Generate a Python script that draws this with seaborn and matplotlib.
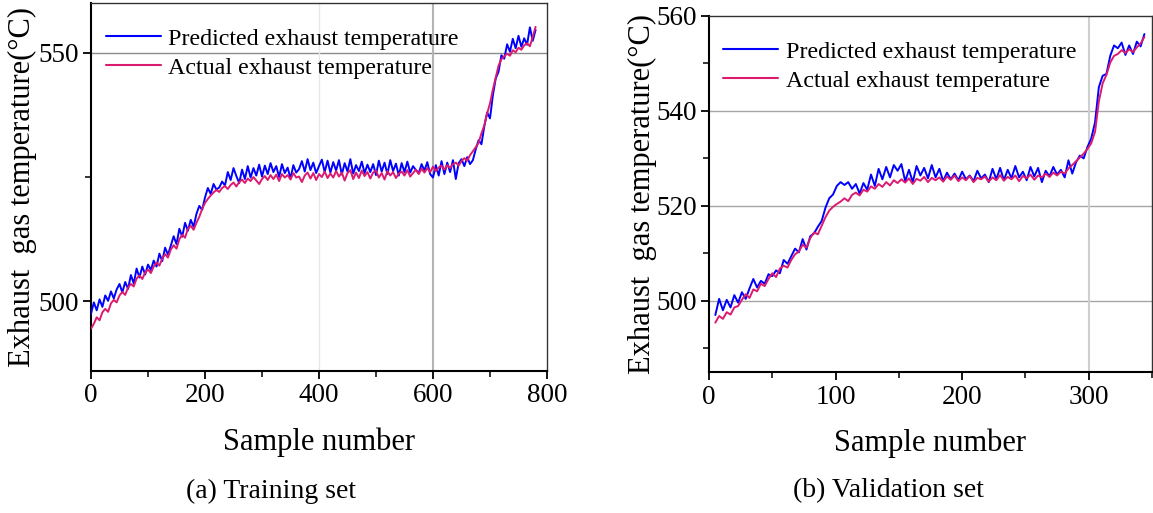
import numpy as np
import pandas as pd
import matplotlib
matplotlib.use("Agg")
import matplotlib.pyplot as plt
import seaborn as sns
from matplotlib.ticker import MultipleLocator

# ---------------- data ----------------
train_samples = list(range(0, 781, 5))
train_actual = [
    494.5, 495.5, 496.8, 496.2, 497.8, 498.5, 497.9, 499.6, 500.3, 499.8,
    501.2, 501.9, 501.3, 502.8, 503.5, 503.0, 504.6, 505.2, 504.5, 505.8,
    506.4, 505.7, 507.0, 507.8, 507.2, 508.6, 509.5, 508.8, 510.4, 511.3,
    510.6, 512.5, 513.4, 512.8, 514.6, 515.2, 514.4, 515.8, 517.0, 518.6,
    519.8, 520.6, 521.3, 521.9, 522.4, 522.0, 522.8, 523.2, 522.6, 523.4,
    523.9, 523.1, 524.0, 524.5, 523.8, 524.7, 524.2, 525.0, 524.3, 523.6,
    524.6, 525.2, 524.4, 525.4, 524.6, 525.5, 524.2, 525.6, 524.9, 525.4,
    524.5, 525.8, 524.9, 525.1, 524.0, 525.3, 525.9, 524.7, 525.8, 524.4,
    525.6, 525.0, 526.1, 524.8, 525.7, 524.9, 526.2, 525.1, 525.9, 524.3,
    525.8, 526.4, 524.6, 525.9, 524.8, 526.3, 525.2, 526.0, 524.7, 525.9,
    526.3, 524.9, 525.8, 524.5, 526.2, 525.3, 526.0, 524.8, 525.7, 526.1,
    525.3, 526.4, 525.1, 525.8, 526.5, 525.6, 526.7, 525.9, 526.8, 526.0,
    527.1, 526.2, 526.9, 527.3, 526.5, 527.4, 526.8, 527.6, 527.9, 527.3,
    528.2, 528.8, 528.3, 529.4, 530.2, 531.0, 531.9, 533.8, 535.4, 537.8,
    539.8, 542.6, 545.0, 547.4, 548.7, 549.3, 549.8, 549.4, 550.5, 550.1,
    551.0, 550.6, 551.5, 551.9, 551.3, 553.2, 555.2,
]
train_pred = [
    497.5, 499.8, 498.2, 500.4, 498.9, 501.2, 500.1, 502.0, 500.6, 502.4,
    503.5, 501.8, 503.9, 502.5, 505.3, 503.6, 506.6, 504.8, 507.0, 505.4,
    507.4, 506.3, 508.2, 507.0, 509.6, 508.1, 510.8, 509.4, 511.2, 513.1,
    511.5, 514.6, 513.0, 515.8, 514.2, 516.4, 515.0, 517.6, 519.2, 518.4,
    520.9, 522.8, 521.6, 523.6, 522.5, 522.9, 524.1, 523.3, 526.0, 524.4,
    526.8, 525.2, 523.8, 526.5, 524.6, 527.2, 524.9, 526.8, 525.3, 527.5,
    525.1, 527.3, 525.6, 527.8, 526.0, 527.2, 525.0, 527.6, 525.8, 526.9,
    524.7, 527.4, 525.9, 526.6, 528.2, 526.1, 528.6, 526.4, 527.9, 525.8,
    527.2, 528.5, 526.0, 528.3, 525.9, 528.0, 526.3, 528.4, 525.5, 527.8,
    526.1, 528.6, 525.7, 527.4, 526.2, 528.1, 525.8, 527.5, 526.0, 527.6,
    525.4, 528.3, 526.1, 527.9, 525.6, 528.4, 526.2, 527.7, 525.3, 527.8,
    526.0, 528.1, 525.9, 527.2, 526.4, 525.8, 527.6, 526.3, 528.0, 525.6,
    524.9, 527.4, 525.3, 528.2, 525.6, 527.9, 526.0, 528.4, 524.6, 527.8,
    528.6, 527.2, 529.0, 527.6, 528.4, 530.6, 532.4, 531.6, 535.2, 538.0,
    536.8, 541.4, 544.8, 546.2, 549.5, 548.8, 551.7, 550.2, 552.8, 550.9,
    553.4, 551.2, 552.9, 551.6, 555.1, 552.4, 554.6,
]

val_samples = list(range(5, 345, 3))
val_actual = [
    495.4, 496.8, 496.2, 497.6, 497.1, 498.6, 498.9, 500.2, 501.4, 500.6,
    502.4, 502.0, 503.6, 503.1, 504.6, 505.8, 505.0, 506.8, 507.4, 507.0,
    508.6, 509.8, 510.4, 511.8, 511.2, 513.2, 514.4, 514.0, 515.8, 517.6,
    519.0, 519.8, 520.4, 520.9, 521.6, 521.0, 522.3, 522.8, 522.2, 523.4,
    523.0, 524.1, 523.6, 524.6, 524.0, 525.0, 524.3, 525.4, 524.8, 525.6,
    524.9, 525.8, 524.6, 525.7, 525.3, 526.1, 525.0, 525.9, 525.4, 526.0,
    525.1, 526.2, 525.5, 526.4, 525.2, 526.0, 525.4, 526.3, 525.0, 525.9,
    525.6, 526.2, 525.1, 526.0, 525.4, 526.5, 525.3, 526.1, 525.6, 526.4,
    525.2, 526.3, 525.8, 526.6, 525.5, 526.4, 526.0, 526.8, 526.1, 527.0,
    526.4, 527.2, 526.8, 527.9, 528.6, 529.4, 530.2, 531.0, 532.0, 533.2,
    535.6, 542.0, 545.8, 547.6, 550.2, 551.6, 552.0, 552.8, 552.2, 553.0,
    552.4, 553.4, 554.2, 555.6,
]
val_pred = [
    497.0, 500.4, 498.0, 500.2, 498.6, 501.2, 499.6, 501.8, 500.4, 502.6,
    504.6, 502.8, 504.2, 503.6, 505.6, 505.2, 506.4, 505.8, 508.6, 507.8,
    509.4, 511.0, 510.2, 513.0, 510.8, 513.6, 514.2, 515.6, 516.8, 519.6,
    521.6, 522.4, 524.2, 525.0, 524.4, 525.0, 523.6, 524.6, 522.6, 524.8,
    523.4, 526.6, 524.2, 527.8, 525.6, 528.2, 526.0, 528.6, 527.4, 528.8,
    525.2, 527.6, 525.0, 528.4, 526.4, 528.0, 525.8, 528.6, 526.0, 527.8,
    525.2, 527.0, 525.6, 526.8, 525.4, 527.2, 525.6, 526.4, 525.2, 527.4,
    525.8, 526.6, 525.0, 527.8, 525.6, 528.0, 525.4, 527.6, 525.8, 528.4,
    526.0, 527.2, 525.4, 528.2, 526.2, 528.0, 525.0, 527.4, 526.2, 528.2,
    526.6, 527.6, 526.0, 529.6, 526.8, 529.2, 530.6, 530.0, 532.4, 534.2,
    537.6, 545.0, 547.4, 547.8, 551.6, 553.8, 553.2, 554.4, 551.8, 553.8,
    552.0, 554.6, 553.6, 556.2,
]

series_names = ["Predicted exhaust temperature", "Actual exhaust temperature"]
series_colors = ["#0000FF", "#DC1A6E"]
captions = ["(a) Training set", "(b) Validation set"]
x_label = "Sample number"
y_label = "Exhaust  gas temperature(\u00b0C)"

# ---------------- style ----------------
sns.set_style("ticks")
plt.rcParams["font.family"] = ["Liberation Serif", "DejaVu Serif"]
plt.rcParams["text.color"] = "black"
plt.rcParams["axes.labelcolor"] = "black"

fig = plt.figure(figsize=(11.53, 5.13), dpi=100)
ax1 = fig.add_axes([91 / 1153, 1 - 371 / 513, (547 - 91) / 1153, (371 - 3) / 513])
ax2 = fig.add_axes([709 / 1153, 1 - 372 / 513, (1152 - 709) / 1153, (372 - 16) / 513])


def long_df(samples, pred, actual):
    return pd.DataFrame({
        "sample": list(samples) * 2,
        "temp": list(pred) + list(actual),
        "series": [series_names[0]] * len(pred) + [series_names[1]] * len(actual),
    })


df1 = long_df(train_samples, train_pred, train_actual)
df2 = long_df(val_samples, val_pred, val_actual)

for ax, df in [(ax1, df1), (ax2, df2)]:
    sns.lineplot(data=df, x="sample", y="temp", hue="series",
                 hue_order=series_names, palette=series_colors,
                 linewidth=1.4, ax=ax, sort=False, estimator=None, zorder=3)

# grid lines as in the reference
ax1.axhline(550, color="#8c8c8c", lw=1.0, zorder=1)
ax1.axvline(400, color="#e8e8e8", lw=1.0, zorder=1)
ax1.axvline(600, color="#b4b4b4", lw=1.5, zorder=1)
for yv in (500, 520, 540):
    ax2.axhline(yv, color="#a6a6a6", lw=1.0, zorder=1)
ax2.axvline(300, color="#cfcfcf", lw=1.5, zorder=1)

ax1.set_xlim(0, 800)
ax1.set_ylim(486, 560)
ax1.xaxis.set_major_locator(MultipleLocator(200))
ax1.xaxis.set_minor_locator(MultipleLocator(100))
ax1.yaxis.set_major_locator(MultipleLocator(50))
ax1.yaxis.set_minor_locator(MultipleLocator(25))

ax2.set_xlim(0, 350)
ax2.set_ylim(485, 560)
ax2.xaxis.set_major_locator(MultipleLocator(100))
ax2.xaxis.set_minor_locator(MultipleLocator(50))
ax2.yaxis.set_major_locator(MultipleLocator(20))
ax2.yaxis.set_minor_locator(MultipleLocator(10))

for ax, cap, xc, ylp, legy in [(ax1, captions[0], 271, 1, 0.932),
                               (ax2, captions[1], 888, -1, 0.93)]:
    for s in ax.spines.values():
        s.set_visible(True)
        s.set_color("#333333")
        s.set_linewidth(1.0)
    ax.spines["left"].set_color("black")
    ax.spines["bottom"].set_color("black")
    ax.spines["left"].set_linewidth(1.5)
    ax.spines["bottom"].set_linewidth(1.5)
    ax.tick_params(axis="both", which="major", direction="out", length=6,
                   width=1.3, labelsize=19.5, colors="black", pad=3)
    ax.tick_params(axis="both", which="minor", direction="out", length=4,
                   width=1.1, colors="black")
    ax.set_xlabel(x_label, fontsize=22, labelpad=14, color="black")
    ax.set_ylabel(y_label, fontsize=22, labelpad=ylp, color="black")
    leg = ax.legend(loc="upper left", frameon=False, fontsize=17.3,
                    handlelength=2.3, handletextpad=0.3, labelspacing=0.3,
                    borderpad=0.0, borderaxespad=0.0,
                    bbox_to_anchor=(0.032, legy))
    for t in leg.get_texts():
        t.set_color("black")
    for line in leg.get_lines():
        line.set_linewidth(1.5)
    fig.text(xc / 1153, 1 - 491 / 513, cap, ha="center", va="center",
             fontsize=20, color="black")

fig.savefig("out.png", dpi=100)
